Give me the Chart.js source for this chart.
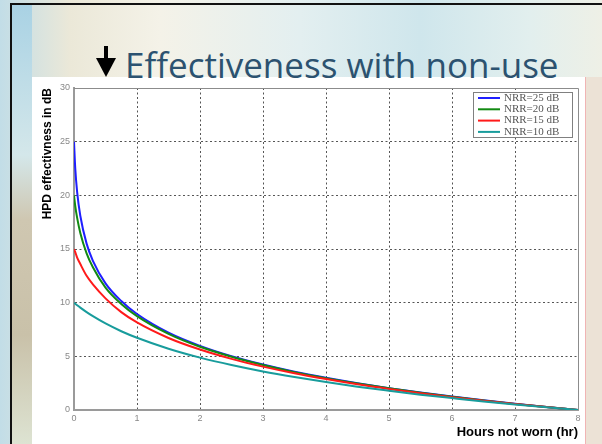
<!DOCTYPE html>
<html lang="en">
<head>
<meta charset="UTF-8">
<script src="https://cdn.jsdelivr.net/npm/chart.js"></script>
<title>Effectiveness with non-use</title>
<style>
    html, body { margin: 0; padding: 0; }
    body {
        width: 602px;
        height: 444px;
        overflow: hidden;
        position: relative;
        font-family: Arial, "Liberation Sans", sans-serif;
        background: linear-gradient(to right, #c2dde7 0px, #ebe8d8 70px, #f4f2e8 160px, #e3eff0 300px, #cfe6ec 420px, #e2efee 530px, #eef0e6 602px);
    }
    .frame {
        position: absolute;
        left: 10px; top: 3px;
        width: 600px; height: 450px;
        border-top: 2px solid #111;
        border-left: 2px solid #111;
    }
    .left-strip {
        position: absolute;
        left: 12px; top: 5px;
        width: 20px; height: 439px;
        background: linear-gradient(to bottom, #a9d2e4 0px, #d4e7ea 150px, #cfc7b1 215px, #c9c1a9 330px, #dde3d2 439px);
    }
    .right-strip {
        position: absolute;
        left: 585px; top: 77px;
        width: 17px; height: 367px;
        background: #ece2d6;
        border-left: 1px solid #f0b4b4;
    }
    .panel {
        position: absolute;
        left: 32px; top: 77px;
        width: 553px; height: 367px;
        background: #fff;
    }
    .title {
        position: absolute;
        left: 125px; top: 47px;
        font-family: "Open Sans", sans-serif;
        font-size: 35px;
        line-height: 35px;
        color: #2c5270;
        white-space: nowrap;
    }
    .arrow-shaft {
        position: absolute;
        left: 104px; top: 46px;
        width: 4px; height: 14px;
        background: #000;
    }
    .arrow-head {
        position: absolute;
        left: 96px; top: 58px;
        width: 0; height: 0;
        border-left: 10px solid transparent;
        border-right: 10px solid transparent;
        border-top: 19px solid #000;
    }
    canvas { position: absolute; left: 0; top: 0; }
</style>
</head>
<body>
<div class="frame"></div>
<div class="left-strip"></div>
<div class="right-strip"></div>
<div class="panel"></div>
<div class="arrow-shaft"></div>
<div class="arrow-head"></div>
<div class="title">Effectiveness with non-use</div>
<canvas id="hpdChart" width="602" height="444"></canvas>

<script>
// hours not worn (x) and effectiveness in dB
const hours = [0, 0.02, 0.05, 0.1, 0.2, 0.3, 0.5, 0.75, 1, 1.5, 2, 2.5, 3, 3.5, 4, 4.5, 5, 5.5, 6, 6.5, 7, 7.5, 8];
const nrr25 = [25, 22.5, 20.3, 18.1, 15.5, 13.9, 11.8, 10.15, 8.94, 7.21, 5.98, 5.02, 4.24, 3.57, 3.0, 2.49, 2.03, 1.62, 1.25, 0.9, 0.58, 0.28, 0];
const nrr20 = [20, 19.0, 17.9, 16.5, 14.6, 13.3, 11.4, 9.88, 8.74, 7.09, 5.89, 4.96, 4.19, 3.53, 2.97, 2.47, 2.02, 1.61, 1.24, 0.89, 0.57, 0.28, 0];
const nrr15 = [15, 14.7, 14.2, 13.6, 12.5, 11.7, 10.4, 9.12, 8.16, 6.71, 5.63, 4.76, 4.04, 3.42, 2.88, 2.39, 1.96, 1.57, 1.2, 0.87, 0.56, 0.27, 0];
const nrr10 = [10, 9.9, 9.76, 9.54, 9.12, 8.74, 8.06, 7.34, 6.73, 5.71, 4.88, 4.19, 3.59, 3.07, 2.6, 2.17, 1.79, 1.43, 1.11, 0.8, 0.52, 0.25, 0];

const seriesNames = ['NRR=25 dB', 'NRR=20 dB', 'NRR=15 dB', 'NRR=10 dB'];
const seriesColors = ['#1f1fff', '#128a12', '#ff1a1a', '#189c9c'];
const seriesValues = [nrr25, nrr20, nrr15, nrr10];

const xTicks = [0, 1, 2, 3, 4, 5, 6, 7, 8];
const yTicks = [0, 5, 10, 15, 20, 25, 30];

Chart.defaults.font.family = 'Arial, "Liberation Sans", sans-serif';

// white legend box sitting inside the top right of the plot
const boxLegend = {
    id: 'boxLegend',
    afterDraw(chart) {
        const { ctx, chartArea } = chart;
        const w = 99, h = 45;
        const left = chartArea.right - 6 - w;
        const top = chartArea.top + 4;
        ctx.save();
        ctx.fillStyle = '#fff';
        ctx.fillRect(left, top, w, h);
        ctx.strokeStyle = '#808080';
        ctx.lineWidth = 1;
        ctx.strokeRect(left + 0.5, top + 0.5, w, h);
        ctx.font = '11px "Liberation Serif", serif';
        ctx.textBaseline = 'middle';
        seriesNames.forEach((name, i) => {
            const y = top + 6 + i * 11.3;
            ctx.strokeStyle = seriesColors[i];
            ctx.lineWidth = 2;
            ctx.beginPath();
            ctx.moveTo(left + 5, y);
            ctx.lineTo(left + 27, y);
            ctx.stroke();
            ctx.fillStyle = '#555';
            ctx.fillText(name, left + 31, y);
        });
        ctx.restore();
    }
};

// top and right edges of the plot box
const plotFrame = {
    id: 'plotFrame',
    beforeDatasetsDraw(chart) {
        const { ctx, chartArea } = chart;
        ctx.save();
        ctx.strokeStyle = '#8c8c8c';
        ctx.lineWidth = 1;
        ctx.beginPath();
        ctx.moveTo(chartArea.left, chartArea.top + 0.5);
        ctx.lineTo(chartArea.right + 0.5, chartArea.top + 0.5);
        ctx.lineTo(chartArea.right + 0.5, chartArea.bottom);
        ctx.stroke();
        ctx.restore();
    }
};

const edgeGrid = (ctx, lo, hi) => (ctx.tick && (ctx.tick.value === lo || ctx.tick.value === hi)) ? 'rgba(0,0,0,0)' : '#555';

new Chart(document.getElementById('hpdChart'), {
    type: 'line',
    data: {
        datasets: seriesNames.map((name, i) => ({
            label: name,
            data: hours.map((h, j) => ({ x: h, y: seriesValues[i][j] })),
            borderColor: seriesColors[i],
            borderWidth: 2,
            pointRadius: 0,
            fill: false,
            cubicInterpolationMode: 'monotone',
            order: 3 - i
        }))
    },
    options: {
        responsive: false,
        animation: false,
        devicePixelRatio: 1,
        layout: { padding: { left: 36, top: 88, right: 24, bottom: 0 } },
        plugins: {
            legend: { display: false },
            tooltip: { enabled: false }
        },
        scales: {
            x: {
                type: 'linear',
                min: 0,
                max: 8,
                afterBuildTicks: scale => { scale.ticks = xTicks.map(v => ({ value: v })); },
                afterFit: scale => { scale.height = 34; },
                ticks: { color: '#888', font: { size: 9 }, padding: 3, maxRotation: 0 },
                grid: { color: c => edgeGrid(c, 0, 8), lineWidth: 1, drawTicks: false },
                border: { display: true, color: '#9a9a9a', width: 2, dash: [2, 2.5] },
                title: {
                    display: true,
                    text: 'Hours not worn (hr)',
                    align: 'end',
                    color: '#000',
                    font: { size: 13, weight: 'bold' },
                    padding: { top: 0, bottom: 4 }
                }
            },
            y: {
                min: 0,
                max: 30,
                afterBuildTicks: scale => { scale.ticks = yTicks.map(v => ({ value: v })); },
                afterFit: scale => { scale.width = 38; },
                ticks: { color: '#888', font: { size: 9 }, padding: 4 },
                grid: { color: c => edgeGrid(c, 0, 30), lineWidth: 1, drawTicks: false },
                border: { display: true, color: '#9a9a9a', width: 2, dash: [2, 2.5] },
                title: {
                    display: true,
                    text: 'HPD effectivness in dB',
                    align: 'end',
                    color: '#000',
                    font: { size: 12, weight: 'bold' },
                    padding: { top: 4, bottom: 0 }
                }
            }
        }
    },
    plugins: [plotFrame, boxLegend]
});
</script>
</body>
</html>
